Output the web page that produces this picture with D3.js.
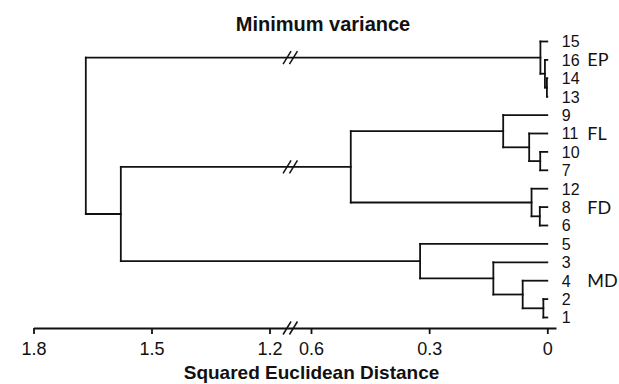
<!DOCTYPE html>
<html>
<head>
<meta charset="utf-8">
<script src="https://cdn.jsdelivr.net/npm/d3@7"></script>
<style>
  html, body { margin: 0; padding: 0; background: #fff; }
  svg { display: block; }
</style>
</head>
<body>
<svg id="chart" width="619" height="384"></svg>
<script>
// ---- data ----
const leaves = ["15","16","14","13","9","11","10","7","12","8","6","5","3","4","2","1"];
const groupNames = ["EP","FL","FD","MD"];
const groupAnchorLeaf = ["16","11","8","4"];
const mergeNames  = ["m1","m2","EP","m4","m5","FL","m7","FD","m9","m10","m11","MD","m13","m14","root"];
const mergeLeft   = ["14","16","15","10","11","9","8","12","2","4","3","5","FL","m13","EP"];
const mergeRight  = ["13","m1","m2","7","m4","m5","6","m7","1","m9","m10","m11","FD","MD","m14"];
const mergeHeight = [0.001,0.006,0.0175,0.018,0.046,0.112,0.019,0.040,0.010,0.0625,0.137,0.323,0.499,1.578,1.667];
const brokenBranches = ["EP","m13"];
const tickValues  = [1.8,1.5,1.2,0.6,0.3,0];
const tickLabels  = ["1.8","1.5","1.2","0.6","0.3","0"];
const titleText = "Minimum variance";
const xTitleText = "Squared Euclidean Distance";

// ---- scales ----
const svg = d3.select("#chart");
// broken axis: 1.8–1.2 on the left, 0.6–0 on the right
const x = d3.scaleLinear()
  .domain([1.8, 1.2, 0.6, 0, -0.022])
  .range([33.5, 269.5, 311, 547.3, 556]);
const y = d3.scalePoint().domain(leaves).range([41.5, 317.5]);
const breakVal = 0.9;

const height = {}, ypos = {};
leaves.forEach(l => { height[l] = 0; ypos[l] = y(l); });
mergeNames.forEach((m, i) => {
  height[m] = mergeHeight[i];
  ypos[m] = (ypos[mergeLeft[i]] + ypos[mergeRight[i]]) / 2;
});

const g = svg.append("g")
  .attr("fill", "none")
  .attr("stroke", "#111")
  .attr("stroke-width", 1.8)
  .attr("stroke-linecap", "square");

const links = [];
mergeNames.forEach((m, i) => {
  const h = mergeHeight[i];
  const a = mergeLeft[i], b = mergeRight[i];
  links.push({x1: x(h), y1: ypos[a], x2: x(h), y2: ypos[b]});
  links.push({x1: x(h), y1: ypos[a], x2: x(height[a]), y2: ypos[a], child: a});
  links.push({x1: x(h), y1: ypos[b], x2: x(height[b]), y2: ypos[b], child: b});
});
g.selectAll("line.link").data(links).join("line")
  .attr("class", "link")
  .attr("x1", d => d.x1).attr("y1", d => d.y1)
  .attr("x2", d => d.x2).attr("y2", d => d.y2);

// break marks
function slashes(sel, cy) {
  [-3.2, 3.2].forEach(off => {
    sel.append("line")
      .attr("x1", x(breakVal) + off - 4).attr("y1", cy + 6.5)
      .attr("x2", x(breakVal) + off + 4).attr("y2", cy - 6.5)
      .attr("stroke", "#111").attr("stroke-width", 1.5);
  });
}
brokenBranches.forEach(c => slashes(svg, ypos[c]));

// leaf labels
svg.append("g").selectAll("text").data(leaves).join("text")
  .attr("x", x(0) + 14.5)
  .attr("y", d => y(d) + 5.8)
  .attr("font-family", "'Liberation Sans', Arial, sans-serif")
  .attr("font-size", 16)
  .attr("fill", "#111")
  .text(d => d);

// group labels
svg.append("g").selectAll("text").data(groupNames).join("text")
  .attr("x", x(0) + 40)
  .attr("y", (d, i) => y(groupAnchorLeaf[i]) + 6.5)
  .attr("font-family", "Lato, 'Open Sans', sans-serif")
  .attr("font-size", 18)
  .attr("fill", "#111")
  .text(d => d);

// axis
const axis = d3.axisBottom(x)
  .tickValues(tickValues)
  .tickFormat((d, i) => tickLabels[i])
  .tickSizeInner(6).tickSizeOuter(0).tickPadding(8);
const ax = svg.append("g").attr("transform", "translate(0,328)").call(axis);
ax.select(".domain").attr("stroke", "#111").attr("stroke-width", 1.8);
ax.selectAll(".tick line").attr("stroke", "#111").attr("stroke-width", 1.8);
ax.selectAll(".tick text")
  .attr("font-family", "'Liberation Sans', Arial, sans-serif")
  .attr("font-size", 18).attr("fill", "#111");
slashes(svg, 328);

// titles
svg.append("text")
  .attr("x", 323).attr("y", 31)
  .attr("text-anchor", "middle")
  .attr("font-family", "'Liberation Sans', Arial, sans-serif")
  .attr("font-weight", "bold").attr("font-size", 20)
  .attr("fill", "#111")
  .text(titleText);
svg.append("text")
  .attr("x", 311.5).attr("y", 379)
  .attr("text-anchor", "middle")
  .attr("font-family", "'Liberation Sans', Arial, sans-serif")
  .attr("font-weight", "bold").attr("font-size", 19)
  .attr("fill", "#111")
  .text(xTitleText);
</script>
</body>
</html>
